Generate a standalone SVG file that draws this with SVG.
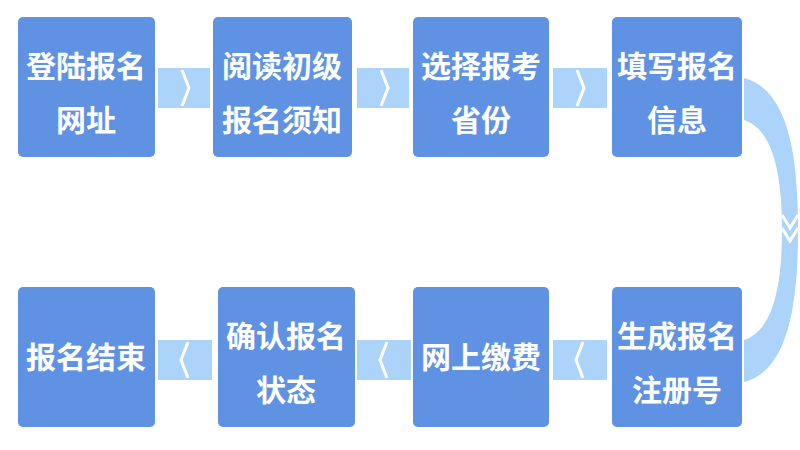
<svg xmlns="http://www.w3.org/2000/svg" width="800" height="450" viewBox="0 0 800 450">
<style>
.box{fill:#5f92e3;}
.t{fill:#fff;font-family:"Noto Sans CJK SC",sans-serif;font-size:30px;font-weight:bold;text-anchor:middle;}
.c{fill:#acd3fa;}
.ch{fill:none;stroke:#fff;stroke-width:3;}
</style>
<rect width="800" height="450" fill="#fff"/>
<g id="connectors">
<g transform="translate(158,68)"><rect class="c" width="52" height="40"/><polyline class="ch" points="24,2 31,20 24,38"/></g>
<g transform="translate(357,68)"><rect class="c" width="52" height="40"/><polyline class="ch" points="24,2 31,20 24,38"/></g>
<g transform="translate(553,68)"><rect class="c" width="54" height="40"/><polyline class="ch" points="24,2 31,20 24,38"/></g>
<g transform="translate(158,340)"><rect class="c" width="54" height="40"/><polyline class="ch" points="30,2 23,20 30,38"/></g>
<g transform="translate(357,340)"><rect class="c" width="54" height="40"/><polyline class="ch" points="30,2 23,20 30,38"/></g>
<g transform="translate(553,340)"><rect class="c" width="54" height="40"/><polyline class="ch" points="30,2 23,20 30,38"/></g>
<path class="c" d="M744,78 C790,90 798,160 798,230 C798,300 790,370 744,382 L744,340 C775,330 782,280 782,230 C782,180 775,130 744,120 Z"/>
<polyline class="ch" points="782,215 790,228 798,215"/>
<polyline class="ch" points="782,228 790,241 798,228"/>
</g>
<g id="n1"><rect class="box" x="18" y="17" width="137" height="140" rx="5"/><text class="t" x="86" y="77">登陆报名</text><text class="t" x="86" y="131">网址</text></g>
<g id="n2"><rect class="box" x="213" y="17" width="139" height="140" rx="5"/><text class="t" x="282" y="77">阅读初级</text><text class="t" x="282" y="131">报名须知</text></g>
<g id="n3"><rect class="box" x="413" y="17" width="136" height="140" rx="5"/><text class="t" x="481" y="77">选择报考</text><text class="t" x="481" y="131">省份</text></g>
<g id="n4"><rect class="box" x="612" y="17" width="130" height="140" rx="5"/><text class="t" x="677" y="77">填写报名</text><text class="t" x="677" y="131">信息</text></g>
<g id="n5"><rect class="box" x="612" y="287" width="130" height="140" rx="5"/><text class="t" x="677" y="347">生成报名</text><text class="t" x="677" y="401">注册号</text></g>
<g id="n6"><rect class="box" x="413" y="287" width="136" height="140" rx="5"/><text class="t" x="481" y="368">网上缴费</text></g>
<g id="n7"><rect class="box" x="218" y="287" width="137" height="140" rx="5"/><text class="t" x="286" y="347">确认报名</text><text class="t" x="286" y="401">状态</text></g>
<g id="n8"><rect class="box" x="18" y="287" width="137" height="140" rx="5"/><text class="t" x="86" y="368">报名结束</text></g>
</svg>
